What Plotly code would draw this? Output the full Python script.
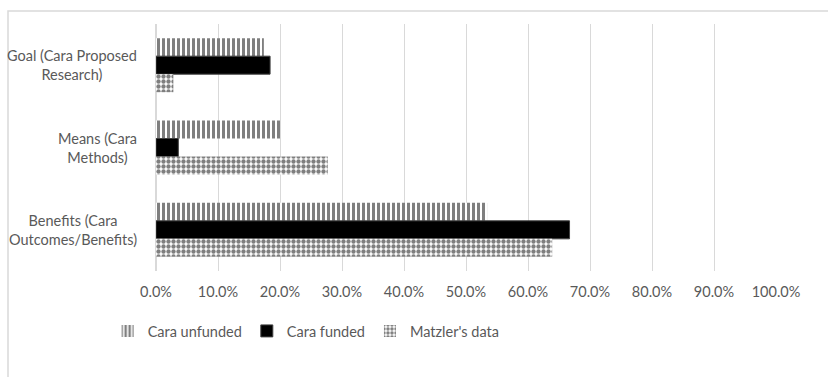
import plotly.graph_objects as go

categories = ["Goal (Cara Proposed<br>Research)", "Means (Cara<br>Methods)", "Benefits (Cara<br>Outcomes/Benefits)"]
series_names = ["Cara unfunded", "Cara funded", "Matzler's data"]
cara_unfunded = [0.174, 0.200, 0.534]
cara_funded = [0.184, 0.036, 0.667]
matzler = [0.028, 0.277, 0.639]
x_ticks = [i / 10 for i in range(11)]

FONT = "Lato"
GRAY = "#595959"
GRID = "#d9d9d9"

fig = go.Figure()
fig.add_trace(go.Bar(
    y=categories, x=cara_unfunded, name=series_names[0], orientation="h",
    marker=dict(color="white", line=dict(width=0),
                pattern=dict(shape="|", fgcolor="black", bgcolor="white", size=5, solidity=0.6)),
))
fig.add_trace(go.Bar(
    y=categories, x=cara_funded, name=series_names[1], orientation="h",
    marker=dict(color="black", line=dict(color="#404040", width=1)),
))
fig.add_trace(go.Bar(
    y=categories, x=matzler, name=series_names[2], orientation="h",
    marker=dict(color="white", line=dict(width=0),
                pattern=dict(shape=".", fgcolor="black", bgcolor="white", size=5, solidity=0.6)),
))

for c in categories:
    fig.add_annotation(x=0, y=c, xref="paper", yref="y", text=c, showarrow=False,
                       xanchor="right", align="center", xshift=-17,
                       font=dict(family=FONT, size=14.5, color=GRAY))

fig.add_shape(type="rect", xref="paper", yref="paper",
              x0=(8 - 156) / 620, x1=1.2, y0=-0.6, y1=1 + 13 / 247,
              line=dict(color=GRID, width=1.5), fillcolor="rgba(0,0,0,0)", layer="below")

fig.update_layout(
    width=828, height=377,
    margin=dict(l=156, r=52, t=24, b=106),
    paper_bgcolor="white", plot_bgcolor="white",
    barmode="group", bargap=0.344, bargroupgap=0,
    font=dict(family=FONT, size=14, color=GRAY),
    showlegend=True,
    legend=dict(orientation="h", x=-0.078, xanchor="left", y=-0.178, yanchor="top",
                font=dict(family=FONT, size=14.5, color=GRAY), traceorder="normal",
                itemwidth=30),
    xaxis=dict(range=[0, 1], tickvals=x_ticks, tickformat=".1%", showgrid=True,
               gridcolor=GRID, gridwidth=1, zeroline=True, zerolinecolor=GRID,
               showline=False, ticks="", ticklabelstandoff=10,
               tickfont=dict(family=FONT, size=14.5, color=GRAY)),
    yaxis=dict(autorange="reversed", showticklabels=False, showgrid=False,
               zeroline=False, showline=False, ticks=""),
)

fig.write_html("out.html")
